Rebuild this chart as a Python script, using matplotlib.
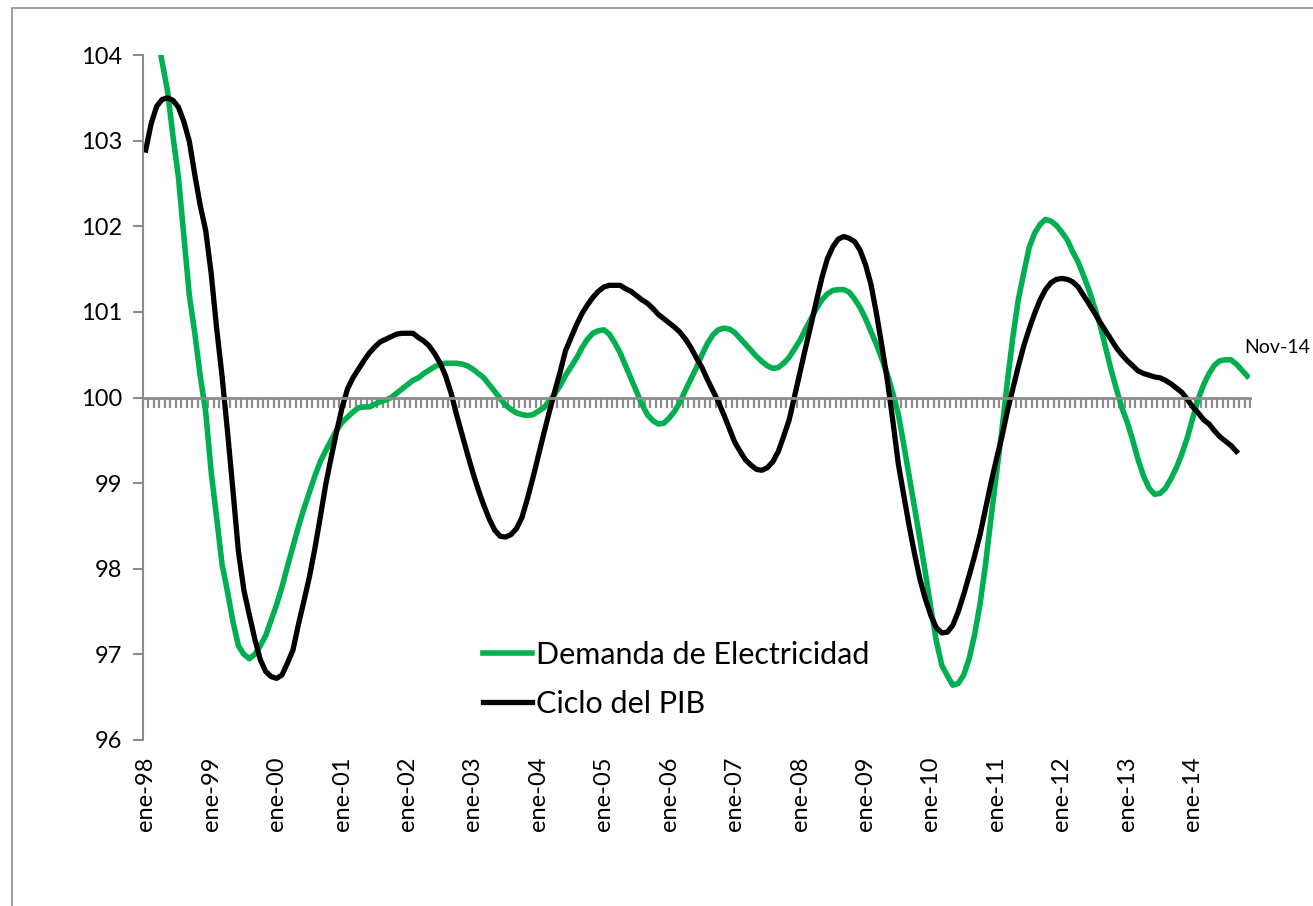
import numpy as np
import matplotlib.pyplot as plt
from matplotlib.patches import Rectangle

plt.rcParams['font.family'] = ['Lato', 'DejaVu Sans']

# etiquetas del eje (una por año, enero)
tick_labels = ['ene-98', 'ene-99', 'ene-00', 'ene-01', 'ene-02', 'ene-03', 'ene-04',
               'ene-05', 'ene-06', 'ene-07', 'ene-08', 'ene-09', 'ene-10', 'ene-11',
               'ene-12', 'ene-13', 'ene-14']
last_label = 'Nov-14'

# demanda de electricidad, mensual ene-98 .. nov-14
demanda = [
    104.90, 104.60, 104.28, 103.92, 103.58, 103.05, 102.57, 101.88, 101.19, 100.75,
    100.25, 99.83, 99.13, 98.60, 98.05, 97.73, 97.38, 97.10, 97.00, 96.95,
    97.00, 97.10, 97.22, 97.40, 97.58, 97.79, 98.03, 98.26, 98.49, 98.70,
    98.89, 99.08, 99.25, 99.38, 99.50, 99.62, 99.71, 99.77, 99.83, 99.88,
    99.89, 99.89, 99.92, 99.95, 99.97, 100.00, 100.05, 100.10, 100.15, 100.20,
    100.23, 100.28, 100.32, 100.36, 100.39, 100.40, 100.40, 100.40, 100.39, 100.37,
    100.33, 100.28, 100.23, 100.15, 100.07, 99.99, 99.91, 99.86, 99.82, 99.80,
    99.79, 99.80, 99.84, 99.88, 99.96, 100.04, 100.14, 100.26, 100.36, 100.46,
    100.58, 100.68, 100.75, 100.78, 100.79, 100.74, 100.64, 100.52, 100.37, 100.22,
    100.07, 99.92, 99.80, 99.73, 99.69, 99.70, 99.76, 99.84, 99.95, 100.09,
    100.22, 100.35, 100.50, 100.63, 100.73, 100.79, 100.81, 100.80, 100.76, 100.69,
    100.62, 100.55, 100.48, 100.42, 100.37, 100.34, 100.35, 100.40, 100.47, 100.57,
    100.67, 100.80, 100.92, 101.04, 101.14, 101.21, 101.25, 101.26, 101.26, 101.23,
    101.15, 101.05, 100.92, 100.77, 100.62, 100.45, 100.27, 100.05, 99.81, 99.45,
    99.08, 98.71, 98.33, 97.94, 97.53, 97.15, 96.87, 96.75, 96.64, 96.66,
    96.76, 96.95, 97.23, 97.59, 98.05, 98.59, 99.10, 99.62, 100.18, 100.70,
    101.14, 101.45, 101.75, 101.92, 102.02, 102.08, 102.06, 102.01, 101.93, 101.84,
    101.70, 101.58, 101.42, 101.25, 101.05, 100.85, 100.59, 100.33, 100.10, 99.88,
    99.71, 99.50, 99.27, 99.08, 98.94, 98.87, 98.88, 98.94, 99.05, 99.18,
    99.34, 99.53, 99.76, 99.98, 100.15, 100.28, 100.38, 100.43, 100.44, 100.44,
    100.39, 100.32, 100.25,
]

# ciclo del PIB, mensual ene-98 .. sep-14
ciclo_pib = [
    102.89, 103.20, 103.40, 103.48, 103.50, 103.47, 103.39, 103.22, 102.99, 102.60,
    102.24, 101.95, 101.45, 100.81, 100.25, 99.60, 98.91, 98.20, 97.75, 97.46,
    97.18, 96.94, 96.80, 96.74, 96.72, 96.76, 96.90, 97.05, 97.35, 97.62,
    97.90, 98.23, 98.60, 98.98, 99.30, 99.60, 99.88, 100.10, 100.23, 100.33,
    100.43, 100.52, 100.59, 100.65, 100.68, 100.71, 100.74, 100.75, 100.75, 100.75,
    100.70, 100.66, 100.60, 100.51, 100.40, 100.25, 100.05, 99.80, 99.57, 99.34,
    99.12, 98.92, 98.74, 98.58, 98.45, 98.38, 98.37, 98.40, 98.47, 98.60,
    98.82, 99.06, 99.32, 99.58, 99.83, 100.07, 100.30, 100.55, 100.70, 100.85,
    100.98, 101.08, 101.17, 101.24, 101.29, 101.31, 101.31, 101.31, 101.27, 101.24,
    101.19, 101.14, 101.10, 101.04, 100.97, 100.92, 100.87, 100.82, 100.76, 100.68,
    100.58, 100.46, 100.35, 100.21, 100.08, 99.95, 99.80, 99.64, 99.48, 99.37,
    99.27, 99.21, 99.16, 99.15, 99.18, 99.25, 99.37, 99.55, 99.74, 100.02,
    100.30, 100.58, 100.85, 101.13, 101.40, 101.62, 101.76, 101.85, 101.88, 101.86,
    101.82, 101.72, 101.55, 101.32, 100.98, 100.60, 100.20, 99.73, 99.23, 98.86,
    98.50, 98.17, 97.87, 97.64, 97.45, 97.31, 97.25, 97.26, 97.34, 97.50,
    97.70, 97.92, 98.15, 98.40, 98.70, 99.00, 99.28, 99.54, 99.84, 100.10,
    100.36, 100.60, 100.80, 100.98, 101.14, 101.26, 101.34, 101.38, 101.39, 101.38,
    101.35, 101.29, 101.19, 101.09, 100.99, 100.88, 100.78, 100.68, 100.58, 100.50,
    100.43, 100.37, 100.31, 100.28, 100.26, 100.24, 100.23, 100.20, 100.16, 100.11,
    100.06, 99.98, 99.89, 99.82, 99.74, 99.69, 99.61, 99.54, 99.49, 99.44,
    99.37,
]

gray = '#8c8c8c'
green = '#00B050'

fig = plt.figure(figsize=(13.13, 9.06), dpi=100)
# borde del area del grafico (se corta a derecha y abajo)
fig.patches.append(Rectangle((12 / 1313, -0.1), 1.2, 1.1 - 8 / 906, transform=fig.transFigure,
                             fill=False, edgecolor=gray, linewidth=1.2))

ax = fig.add_axes([143 / 1313, 166 / 906, 1107 / 1313, 685 / 906])

x_dem = np.arange(len(demanda))
x_pib = np.arange(len(ciclo_pib))
ax.plot(x_dem, demanda, color=green, lw=4, label='Demanda de Electricidad')
ax.plot(x_pib, ciclo_pib, color='black', lw=3.8, label='Ciclo del PIB')

ax.set_ylim(96, 104)
ax.set_xlim(-0.5, len(demanda) - 0.5)

# eje horizontal cruzando en 100, con marcas mensuales
ax.spines['top'].set_visible(False)
ax.spines['right'].set_visible(False)
ax.spines['left'].set_color(gray)
ax.spines['left'].set_linewidth(1.5)
ax.spines['bottom'].set_position(('data', 100))
ax.spines['bottom'].set_color(gray)
ax.spines['bottom'].set_linewidth(2)
ax.set_xticks(np.arange(len(demanda) + 1) - 0.5)
ax.tick_params(axis='x', direction='out', length=7, width=1.6, color=gray, labelbottom=False)

ax.set_yticks(np.arange(96, 105, 1))
ax.tick_params(axis='y', direction='out', length=7, width=1.5, color=gray, labelsize=17, pad=8)

# etiquetas de fecha abajo
sec = ax.secondary_xaxis('bottom')
sec.set_xticks(x_dem[::12], tick_labels, rotation=90)
sec.spines['bottom'].set_visible(False)
sec.tick_params(length=0, pad=12, labelsize=17)

ax.annotate(last_label, xy=(x_dem[-1], demanda[-1]), xytext=(-3, 29), textcoords='offset pixels',
            ha='left', va='center', fontsize=14)

ax.legend(loc='upper left', bbox_to_anchor=(483 / 1313, 1 - 641 / 906), bbox_transform=fig.transFigure,
          frameon=False, fontsize=22, handlelength=1.6, handletextpad=0.15, borderpad=0,
          borderaxespad=0, labelspacing=0.68)

plt.savefig('out.png', dpi=100)
